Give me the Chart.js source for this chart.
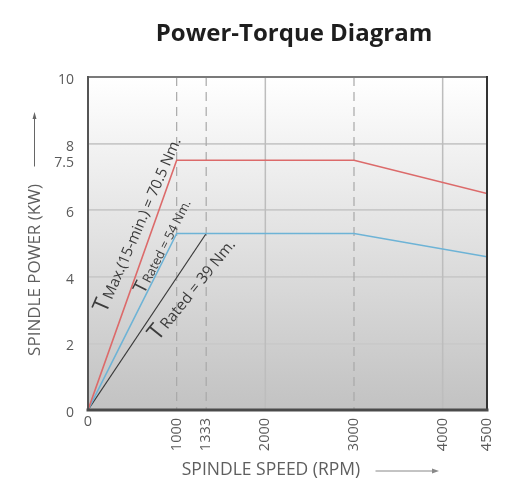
<!DOCTYPE html>
<html>
<head>
<meta charset="utf-8">
<script src="https://cdn.jsdelivr.net/npm/chart.js@4.4.1/dist/chart.umd.min.js"></script>
<style>
  html, body { margin: 0; padding: 0; background: #fff; }
  #wrap { width: 510px; height: 481px; }
</style>
</head>
<body>
<div id="wrap"><canvas id="c" width="510" height="481"></canvas></div>
<script>
// ---- data ----
const titleText = "Power-Torque Diagram";
const xTitle = "SPINDLE SPEED (RPM)";
const yTitle = "SPINDLE POWER (KW)";
const xTicks = [0, 1000, 1333, 2000, 3000, 4000, 4500];
const yTicks = [0, 2, 4, 6, 7.5, 8, 10];
const yGridValues = [2, 4, 6, 8];
const xSolidGrid = [2000, 4000];
const xDashedGrid = [1000, 1333, 3000];

const maxSpeed = [0, 1000, 3000, 4500];
const maxPower = [0, 7.5, 7.5, 6.5];
const rated54Speed = [0, 1000, 3000, 4500];
const rated54Power = [0, 5.3, 5.3, 4.6];
const rated39Speed = [0, 1333];
const rated39Power = [0, 5.3];

const labelMax = ["T", "Max.(15-min.) = 70.5 Nm."];
const label54 = ["T", "Rated = 54 Nm."];
const label39 = ["T", "Rated = 39 Nm."];
// label baseline start/end, in chart (speed, power) units
const labelMaxAnchor = [[203, 2.89], [1049, 8.1]];
const label54Anchor = [[632, 3.46], [1162, 6.23]];
const label39Anchor = [[789, 2.05], [1669, 4.97]];

function pts(xs, ys) { return xs.map((x, i) => ({ x: x, y: ys[i] })); }

const FONT = "'Open Sans', 'DejaVu Sans', sans-serif";

const decor = {
  id: 'decor',
  beforeDraw(chart) {
    const { ctx, chartArea: a } = chart;
    ctx.save();
    const g = ctx.createLinearGradient(0, a.top, 0, a.bottom);
    g.addColorStop(0, '#ffffff');
    g.addColorStop(1, '#c2c2c2');
    ctx.fillStyle = g;
    ctx.fillRect(a.left, a.top, a.right - a.left, a.bottom - a.top);
    ctx.restore();
  },
  beforeDatasetsDraw(chart) {
    const { ctx, chartArea: a, scales } = chart;
    const xs = scales.x;
    ctx.save();
    ctx.lineWidth = 1.5;
    ctx.strokeStyle = '#bdbdbd';
    xSolidGrid.forEach(v => {
      const px = xs.getPixelForValue(v);
      ctx.beginPath(); ctx.moveTo(px, a.top); ctx.lineTo(px, a.bottom); ctx.stroke();
    });
    ctx.setLineDash([9, 6]);
    ctx.strokeStyle = '#a8a8a8';
    ctx.lineWidth = 1.2;
    xDashedGrid.forEach(v => {
      const px = xs.getPixelForValue(v);
      ctx.beginPath(); ctx.moveTo(px, a.top); ctx.lineTo(px, a.bottom); ctx.stroke();
    });
    ctx.restore();
  },
  afterDatasetsDraw(chart) {
    const { ctx, chartArea: a, scales } = chart;
    const xs = scales.x, ys = scales.y;
    ctx.save();
    // frame
    ctx.lineCap = 'square';
    ctx.strokeStyle = '#7a7a7a'; ctx.lineWidth = 2;
    ctx.beginPath(); ctx.moveTo(a.left, a.top); ctx.lineTo(a.right, a.top); ctx.stroke();
    ctx.strokeStyle = '#555'; ctx.lineWidth = 2;
    ctx.beginPath(); ctx.moveTo(a.left, a.top); ctx.lineTo(a.left, a.bottom); ctx.stroke();
    ctx.strokeStyle = '#333'; ctx.lineWidth = 2;
    ctx.beginPath(); ctx.moveTo(a.right, a.top); ctx.lineTo(a.right, a.bottom); ctx.stroke();
    ctx.strokeStyle = '#4a4a4a'; ctx.lineWidth = 3;
    ctx.beginPath(); ctx.moveTo(a.left, a.bottom); ctx.lineTo(a.right, a.bottom); ctx.stroke();

    // annotations along lines, fitted between two anchors
    function lineLabel(anchor, parts) {
      const sx = xs.getPixelForValue(anchor[0][0]), sy = ys.getPixelForValue(anchor[0][1]);
      const ex = xs.getPixelForValue(anchor[1][0]), ey = ys.getPixelForValue(anchor[1][1]);
      const ang = Math.atan2(ey - sy, ex - sx);
      const dist = Math.hypot(ex - sx, ey - sy);
      const base = 10, ratio = 1.5;
      ctx.font = (base * ratio) + 'px ' + FONT;
      const wT = ctx.measureText(parts[0]).width;
      ctx.font = base + 'px ' + FONT;
      const wR = ctx.measureText(parts[1]).width;
      const k = dist / (wT + wR + 1.5);
      const small = base * k, big = base * ratio * k;
      ctx.save();
      ctx.translate(sx, sy);
      ctx.rotate(ang);
      ctx.fillStyle = '#3c3c3c';
      ctx.textBaseline = 'alphabetic';
      ctx.textAlign = 'left';
      ctx.font = big + 'px ' + FONT;
      ctx.fillText(parts[0], 0, 0);
      const w = ctx.measureText(parts[0]).width;
      ctx.font = small + 'px ' + FONT;
      ctx.fillText(parts[1], w + 1.5 * k, 0);
      ctx.restore();
    }
    lineLabel(labelMaxAnchor, labelMax);
    lineLabel(label54Anchor, label54);
    lineLabel(label39Anchor, label39);

    // x tick labels
    ctx.fillStyle = '#5a5a5a';
    ctx.font = '14.5px ' + FONT;
    xTicks.forEach(v => {
      const px = xs.getPixelForValue(v);
      if (v === 0) {
        ctx.textAlign = 'center'; ctx.textBaseline = 'top';
        ctx.fillText(String(v), px, a.bottom + 5);
      } else {
        ctx.save();
        ctx.translate(px, a.bottom + 8);
        ctx.rotate(-Math.PI / 2);
        ctx.textAlign = 'right'; ctx.textBaseline = 'middle';
        ctx.fillText(String(v), 0, 0);
        ctx.restore();
      }
    });

    // title
    ctx.fillStyle = '#1e1e1e';
    ctx.font = 'bold 24px ' + FONT;
    ctx.textAlign = 'center'; ctx.textBaseline = 'middle';
    ctx.fillText(titleText, 294, 34);

    // x axis title + arrow
    ctx.fillStyle = '#5e5e5e';
    ctx.font = '17.5px ' + FONT;
    ctx.textAlign = 'center'; ctx.textBaseline = 'middle';
    ctx.fillText(xTitle, 271, 470);
    ctx.strokeStyle = '#888'; ctx.lineWidth = 1; ctx.fillStyle = '#888';
    ctx.beginPath(); ctx.moveTo(376, 471); ctx.lineTo(434, 471); ctx.stroke();
    ctx.beginPath(); ctx.moveTo(439, 471); ctx.lineTo(432, 468.5); ctx.lineTo(432, 473.5); ctx.closePath(); ctx.fill();

    // y axis title + arrow
    ctx.save();
    ctx.translate(35, 270);
    ctx.rotate(-Math.PI / 2);
    ctx.fillStyle = '#5e5e5e';
    ctx.font = '17px ' + FONT;
    ctx.textAlign = 'center'; ctx.textBaseline = 'middle';
    ctx.fillText(yTitle, 0, 0);
    ctx.restore();
    ctx.strokeStyle = '#666'; ctx.lineWidth = 1; ctx.fillStyle = '#666';
    ctx.beginPath(); ctx.moveTo(34.5, 166); ctx.lineTo(34.5, 118); ctx.stroke();
    ctx.beginPath(); ctx.moveTo(34.5, 112); ctx.lineTo(32.5, 119); ctx.lineTo(36.5, 119); ctx.closePath(); ctx.fill();
    ctx.restore();
  }
};

new Chart(document.getElementById('c'), {
  type: 'line',
  data: {
    datasets: [
      { label: 'T Max (15-min) = 70.5 Nm', data: pts(maxSpeed, maxPower), borderColor: '#dc6a6a', borderWidth: 1.6, pointRadius: 0, tension: 0, fill: false },
      { label: 'T Rated = 54 Nm', data: pts(rated54Speed, rated54Power), borderColor: '#6db3d6', borderWidth: 1.6, pointRadius: 0, tension: 0, fill: false },
      { label: 'T Rated = 39 Nm', data: pts(rated39Speed, rated39Power), borderColor: '#3a3a3a', borderWidth: 1.2, pointRadius: 0, tension: 0, fill: false }
    ]
  },
  options: {
    responsive: false,
    animation: false,
    devicePixelRatio: 1,
    layout: { padding: { left: 0, top: 77, right: 23, bottom: 0 } },
    plugins: { legend: { display: false }, tooltip: { enabled: false }, title: { display: false } },
    scales: {
      x: {
        type: 'linear', min: 0, max: 4500,
        afterBuildTicks: s => { s.ticks = xTicks.map(v => ({ value: v })); },
        afterFit: s => { s.height = 71; },
        ticks: { display: false },
        grid: { display: false, drawTicks: false },
        border: { display: false }
      },
      y: {
        type: 'linear', min: 0, max: 10,
        afterBuildTicks: s => { s.ticks = yTicks.map(v => ({ value: v })); },
        afterFit: s => { s.width = 88; },
        ticks: { autoSkip: false, padding: 14, color: '#5a5a5a', font: { family: FONT, size: 14 }, labelOffset: 3, callback: v => String(v) },
        grid: {
          drawTicks: false, tickLength: 0, lineWidth: 1.8,
          color: c => (c.tick && yGridValues.includes(c.tick.value)) ? '#c9c9c9' : 'rgba(0,0,0,0)'
        },
        border: { display: false }
      }
    }
  },
  plugins: [decor]
});
</script>
</body>
</html>
